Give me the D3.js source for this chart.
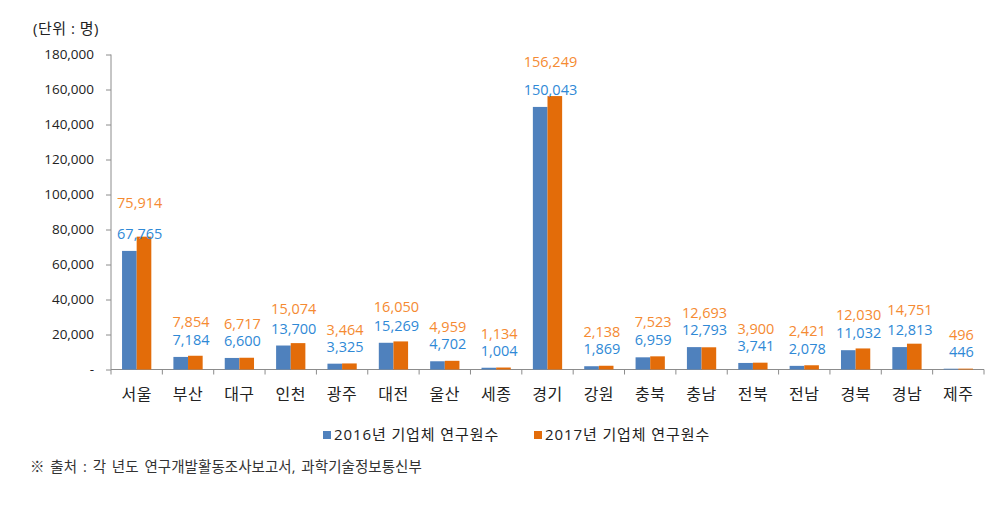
<!DOCTYPE html>
<html>
<head>
<meta charset="utf-8">
<script src="https://cdn.jsdelivr.net/npm/d3@7"></script>
<style>
  body { margin: 0; background: #fff; }
  svg { font-family: "Open Sans", "Noto Sans CJK KR", sans-serif; }
</style>
</head>
<body>
<script>
const regions = ["서울", "부산", "대구", "인천", "광주", "대전", "울산", "세종", "경기",
  "강원", "충북", "충남", "전북", "전남", "경북", "경남", "제주"];
const v2016 = [67765, 7184, 6600, 13700, 3325, 15269, 4702, 1004, 150043,
  1869, 6959, 12793, 3741, 2078, 11032, 12813, 446];
const v2017 = [75914, 7854, 6717, 15074, 3464, 16050, 4959, 1134, 156249,
  2138, 7523, 12693, 3900, 2421, 12030, 14751, 496];
const seriesNames = ["2016년 기업체 연구원수", "2017년 기업체 연구원수"];
const yTicks = [0, 20000, 40000, 60000, 80000, 100000, 120000, 140000, 160000, 180000];

const width = 1007, height = 513;
const barColors = ["#4F81BD", "#E36C09"];
const labelColors = ["#2F89D6", "#F58A32"];
const axisColor = "#8C8C8C";

const rows = regions.map((r, i) => ({ region: r, values: [v2016[i], v2017[i]] }));

const svg = d3.select("body").append("svg")
  .attr("width", width)
  .attr("height", height);

const x = d3.scaleBand().domain(regions).range([111, 984]).padding(0);
const x1 = d3.scaleBand().domain([0, 1])
  .range([x.bandwidth() * 0.215, x.bandwidth() * 0.785]).padding(0);
const y = d3.scaleLinear().domain([0, 180000]).range([369.5, 54.5]);

// unit label
svg.append("text")
  .attr("x", 33).attr("y", 34)
  .attr("font-size", 15).attr("letter-spacing", 0.5).attr("fill", "#222")
  .text("(단위 : 명)");

// y axis
const fmt = d3.format(",");
const yAxis = svg.append("g")
  .attr("transform", "translate(111,0)")
  .call(d3.axisLeft(y).tickValues(yTicks).tickSize(5).tickPadding(12)
    .tickFormat(d => d === 0 ? "- " : fmt(d)));
yAxis.select(".domain").attr("stroke", axisColor).attr("d", `M0,${y(180000)}V${y(0)}`);
yAxis.selectAll(".tick line").attr("stroke", axisColor);
yAxis.selectAll(".tick text")
  .attr("font-size", 13.5).attr("fill", "#222")
  .attr("font-family", "\"Open Sans\", sans-serif");

// x axis
const xAxisG = svg.append("g").attr("transform", `translate(0,${y(0)})`);
xAxisG.append("line")
  .attr("x1", x.range()[0]).attr("x2", x.range()[1])
  .attr("stroke", axisColor);
xAxisG.selectAll("line.tk")
  .data(regions.concat(["end"]))
  .join("line")
  .attr("class", "tk")
  .attr("x1", (d, i) => x.range()[0] + i * x.bandwidth())
  .attr("x2", (d, i) => x.range()[0] + i * x.bandwidth())
  .attr("y1", 0).attr("y2", 5)
  .attr("stroke", axisColor);
xAxisG.selectAll("text")
  .data(regions)
  .join("text")
  .attr("x", d => x(d) + x.bandwidth() / 2)
  .attr("y", 30)
  .attr("text-anchor", "middle")
  .attr("font-size", 16)
  .attr("letter-spacing", 0.5)
  .attr("fill", "#222")
  .text(d => d);

// bars
const groups = svg.append("g").selectAll("g")
  .data(rows)
  .join("g")
  .attr("transform", d => `translate(${x(d.region)},0)`);

groups.selectAll("rect")
  .data(d => d.values)
  .join("rect")
  .attr("x", (d, i) => x1(i))
  .attr("width", x1.bandwidth())
  .attr("y", d => y(d))
  .attr("height", d => y(0) - y(d))
  .attr("fill", (d, i) => barColors[i]);

// data labels
groups.each(function (d) {
  const g = d3.select(this);
  const cx = x.bandwidth() / 2 + 3;
  const blueY = y(d.values[0]) - 17;
  const orangeY = Math.min(y(d.values[1]) - 34, blueY - 17);
  g.append("text")
    .attr("x", cx).attr("y", blueY)
    .attr("dy", "0.35em")
    .attr("text-anchor", "middle")
    .attr("font-size", 14.5)
    .attr("fill", labelColors[0])
    .text(fmt(d.values[0]));
  g.append("text")
    .attr("x", cx).attr("y", orangeY)
    .attr("dy", "0.35em")
    .attr("text-anchor", "middle")
    .attr("font-size", 14.5)
    .attr("fill", labelColors[1])
    .text(fmt(d.values[1]));
});

// legend
const legendX = [323, 534];
const legend = svg.append("g").selectAll("g")
  .data(seriesNames)
  .join("g")
  .attr("transform", (d, i) => `translate(${legendX[i]},431)`);
legend.append("rect")
  .attr("width", 8).attr("height", 8)
  .attr("fill", (d, i) => barColors[i]);
legend.append("text")
  .attr("x", 11).attr("y", 4)
  .attr("dy", "0.35em")
  .attr("font-size", 15)
  .attr("letter-spacing", 0.9)
  .attr("fill", "#222")
  .text(d => d);

// source note
svg.append("text")
  .attr("x", 30).attr("y", 467)
  .attr("dy", "0.35em")
  .attr("font-size", 14.5)
  .attr("letter-spacing", 0.05)
  .attr("word-spacing", 2)
  .attr("fill", "#333")
  .text("※ 출처 : 각 년도 연구개발활동조사보고서, 과학기술정보통신부");
</script>
</body>
</html>
